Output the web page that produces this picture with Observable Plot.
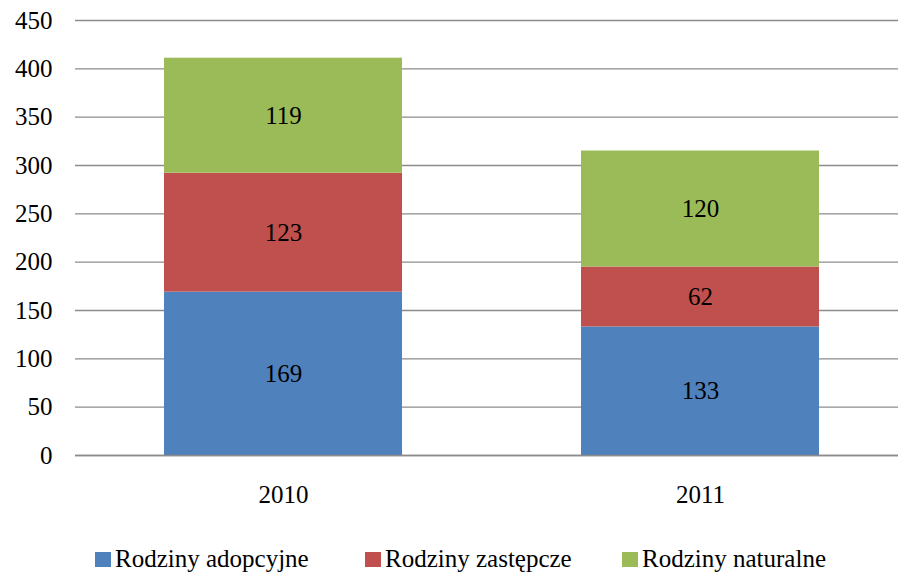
<!DOCTYPE html>
<html><head><meta charset="utf-8">
<script src="https://cdn.jsdelivr.net/npm/d3@7"></script>
<script src="https://cdn.jsdelivr.net/npm/@observablehq/plot@0.6"></script>
<style>
body{margin:0;background:#fff;font-family:"Liberation Serif","DejaVu Serif","Noto Serif","Tinos","Times New Roman",Times,serif;}
#wrap{position:relative;width:898px;height:577px;}
#legend{position:absolute;top:545px;left:0;width:898px;font-size:25px;color:#000;}
.item{position:absolute;display:flex;align-items:center;white-space:nowrap;}
.sw{width:16px;height:15px;margin-right:4px;}
svg text{font-family:"Liberation Serif","DejaVu Serif","Noto Serif","Tinos","Times New Roman",Times,serif !important;}
</style></head>
<body><div id="wrap"><div id="chart"></div><div id="legend"></div></div>
<script>
const years = ["2010", "2011"];
const seriesNames = ["Rodziny adopcyjne", "Rodziny zastępcze", "Rodziny naturalne"];
const adopcyjne = [169, 133];
const zastepcze = [123, 62];
const naturalne = [119, 120];
const colors = ["#4F81BD", "#C0504D", "#9BBB59"];
const yTicks = [0, 50, 100, 150, 200, 250, 300, 350, 400, 450];

const valuesBySeries = [adopcyjne, zastepcze, naturalne];
const data = [];
seriesNames.forEach((s, si) => years.forEach((y, yi) => data.push({year: y, series: s, value: valuesBySeries[si][yi]})));

const FONT = '"Liberation Serif", "DejaVu Serif", "Noto Serif", Tinos, "Times New Roman", Times, serif';
const chart = Plot.plot({
  width: 898, height: 577,
  marginLeft: 75, marginRight: 0, marginTop: 20, marginBottom: 122,
  style: {fontFamily: FONT, fontSize: "25px", color: "#000", background: "#fff"},
  x: {domain: years, range: [74.5, 908.5], paddingInner: 0.43, paddingOuter: 0.215, label: null},
  y: {domain: [0, 450], range: [455, 20], label: null},
  color: {domain: seriesNames, range: colors},
  marks: [
    Plot.ruleY(yTicks, {stroke: "#8c8c8c", strokeWidth: 1.4}),
    Plot.axisY({ticks: yTicks, tickSize: 0, tickPadding: 23, fontSize: 25, label: null}),
    Plot.axisX({tickSize: 0, tickPadding: 30, fontSize: 25, label: null}),
    Plot.barY(data, {x: "year", y: "value", fill: "series", order: seriesNames}),
    Plot.text(data, Plot.stackY({x: "year", y: "value", z: "series", order: seriesNames, text: d => String(d.value), fontSize: 25, fill: "#000"})),
    Plot.ruleY([0], {stroke: "#8c8c8c", strokeWidth: 1.6})
  ]
});
document.getElementById("chart").appendChild(chart);

const legendX = [95, 365, 622];
const leg = document.getElementById("legend");
seriesNames.forEach((s, i) => {
  const it = document.createElement("div");
  it.className = "item";
  it.style.left = legendX[i] + "px";
  it.innerHTML = `<span class="sw" style="background:${colors[i]}"></span><span>${s}</span>`;
  leg.appendChild(it);
});
</script></body></html>
